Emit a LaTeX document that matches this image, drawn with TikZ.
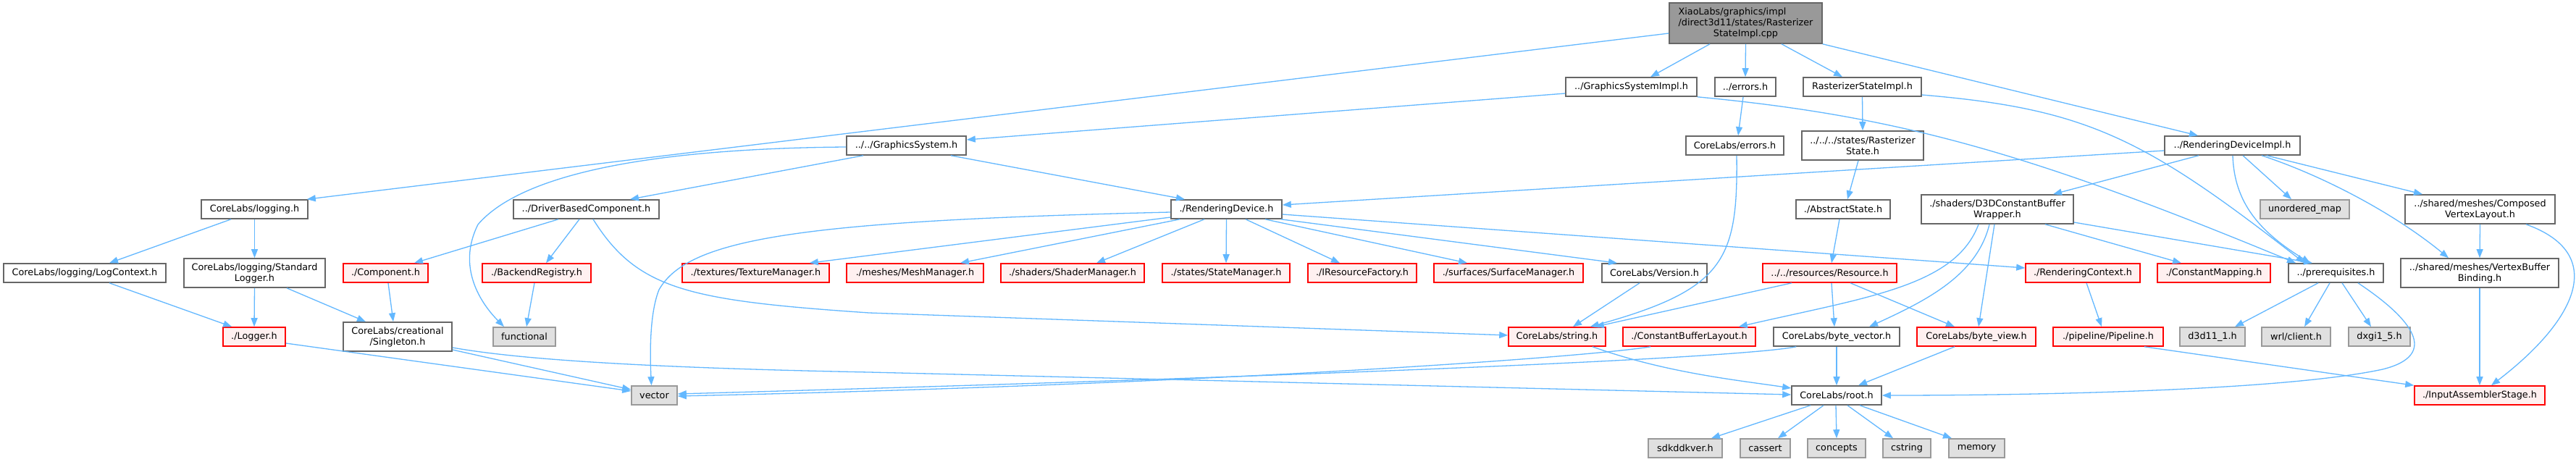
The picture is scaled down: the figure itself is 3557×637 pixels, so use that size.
\documentclass[tikz,border=0pt]{standalone}
\usepackage{fontspec}
\setmainfont{DejaVu Sans}
\usetikzlibrary{arrows.meta,calc}
\definecolor{edgeblue}{HTML}{63B8FF}
\definecolor{bdgray}{HTML}{666666}
\definecolor{redfill}{HTML}{FFF0F0}
\definecolor{grayfill}{HTML}{E0E0E0}
\definecolor{graybd}{HTML}{999999}
\definecolor{mainfill}{HTML}{999999}
\tikzset{
  nd/.style={draw=bdgray, fill=white, line width=1.6pt, inner sep=0pt, align=center,
             font=\fontsize{12.8}{15}\selectfont, text=black, minimum height=26pt},
  rednd/.style={nd, draw=red, fill=redfill},
  graynd/.style={nd, draw=graybd, fill=grayfill},
  mainnd/.style={nd, draw=bdgray, fill=mainfill},
  dep/.style={draw=edgeblue, line width=1.3pt, -{Triangle[length=12pt,width=9pt]}},
}
\begin{document}
\begin{tikzpicture}[x=1pt,y=-1pt]
\fill[white] (0,0) rectangle (3557,637);
\useasboundingbox (0,0) rectangle (3557,637);

% row 0
\node[mainnd, minimum width=211pt, minimum height=56pt] (main) at (2410.5,32)
  {\rlap{XiaoLabs/graphics/impl}\phantom{/direct3d11/states/Rasterizer}\\/direct3d11/states/Rasterizer\\StateImpl.cpp};
% row 1
\node[nd, minimum width=181pt] (gsi) at (2252.5,120) {../GraphicsSystemImpl.h};
\node[nd, minimum width=84pt] (err) at (2410,120) {../errors.h};
\node[nd, minimum width=163pt] (rsi) at (2571.5,120) {RasterizerStateImpl.h};
% row 2
\node[nd, minimum width=165pt] (gs) at (1251.5,201) {../../GraphicsSystem.h};
\node[nd, minimum width=135pt] (cerr) at (2395.5,201) {CoreLabs/errors.h};
\node[nd, minimum width=168pt, minimum height=40pt] (rs) at (2572,201) {../../../states/Rasterizer\\State.h};
\node[nd, minimum width=187pt] (rdi) at (3082.5,201) {../RenderingDeviceImpl.h};
% row 3
\node[nd, minimum width=147pt] (log) at (351.5,289) {CoreLabs/logging.h};
\node[nd, minimum width=201pt] (dbc) at (809.5,289) {../DriverBasedComponent.h};
\node[nd, minimum width=153pt] (rd) at (1693.5,289) {./RenderingDevice.h};
\node[nd, minimum width=130pt] (as) at (2545,289) {./AbstractState.h};
\node[nd, minimum width=210pt, minimum height=40pt] (d3d) at (2758,289) {./shaders/D3DConstantBuffer\\Wrapper.h};
\node[graynd, minimum width=123pt] (umap) at (3182.5,289) {unordered\_map};
\node[nd, minimum width=207pt, minimum height=40pt] (cvl) at (3424.5,289) {../shared/meshes/Composed\\VertexLayout.h};
% row 4
\node[nd, minimum width=224pt] (lctx) at (117,377) {CoreLabs/logging/LogContext.h};
\node[nd, minimum width=195pt, minimum height=40pt] (stdl) at (351.5,377) {CoreLabs/logging/Standard\\Logger.h};
\node[rednd, minimum width=117pt] (comp) at (532.5,377) {./Component.h};
\node[rednd, minimum width=150pt] (breg) at (741,377) {./BackendRegistry.h};
\node[rednd, minimum width=203pt] (tex) at (1043.5,377) {./textures/TextureManager.h};
\node[rednd, minimum width=189pt] (mesh) at (1263.5,377) {./meshes/MeshManager.h};
\node[rednd, minimum width=198pt] (shad) at (1481,377) {./shaders/ShaderManager.h};
\node[rednd, minimum width=176pt] (stat) at (1693,377) {./states/StateManager.h};
\node[rednd, minimum width=150pt] (irf) at (1881,377) {./IResourceFactory.h};
\node[rednd, minimum width=206pt] (surf) at (2083,377) {./surfaces/SurfaceManager.h};
\node[nd, minimum width=145pt] (ver) at (2284.5,377) {CoreLabs/Version.h};
\node[rednd, minimum width=185pt] (res) at (2526.5,377) {../../resources/Resource.h};
\node[rednd, minimum width=158pt] (rctx) at (2876,377) {./RenderingContext.h};
\node[rednd, minimum width=156pt] (cmap) at (3057,377) {./ConstantMapping.h};
\node[nd, minimum width=131pt] (pre) at (3225.5,377) {../prerequisites.h};
\node[nd, minimum width=218pt, minimum height=40pt] (vbb) at (3424,377) {../shared/meshes/VertexBuffer\\Binding.h};
% row 5
\node[rednd, minimum width=86pt] (logger) at (351,465) {./Logger.h};
\node[nd, minimum width=150pt, minimum height=40pt] (single) at (549,465) {CoreLabs/creational\\/Singleton.h};
\node[graynd, minimum width=86pt] (func) at (724,465) {functional};
\node[rednd, minimum width=134pt] (str) at (2150,465) {CoreLabs/string.h};
\node[rednd, minimum width=183pt] (cbl) at (2332.5,465) {./ConstantBufferLayout.h};
\node[nd, minimum width=174pt] (bvec) at (2536,465) {CoreLabs/byte\_vector.h};
\node[rednd, minimum width=164pt] (bview) at (2729,465) {CoreLabs/byte\_view.h};
\node[rednd, minimum width=152pt] (pipe) at (2911,465) {./pipeline/Pipeline.h};
\node[graynd, minimum width=90pt] (d3d11) at (3055,465) {d3d11\_1.h};
\node[graynd, minimum width=95pt] (wrl) at (3170.5,465) {wrl/client.h};
\node[graynd, minimum width=85pt] (dxgi) at (3285.5,465) {dxgi1\_5.h};
% row 6
\node[graynd, minimum width=63pt] (vec) at (903.5,546) {vector};
\node[nd, minimum width=124pt] (root) at (2536,546) {CoreLabs/root.h};
\node[rednd, minimum width=180pt] (ias) at (3424,546) {./InputAssemblerStage.h};
% row 7
\node[graynd, minimum width=102pt] (sdk) at (2327,619) {sdkddkver.h};
\node[graynd, minimum width=69pt] (cassert) at (2437.5,619) {cassert};
\node[graynd, minimum width=80pt] (concepts) at (2536,619) {concepts};
\node[graynd, minimum width=66pt] (cstring) at (2633,619) {cstring};
\node[graynd, minimum width=77pt] (memory) at (2729.5,619) {memory};

% edges
\draw[dep] ($(main.west)+(0,14)$) -- ($(log.north east)+(-2,0)$);
\draw[dep] ($(main.south)+(-49.5,0)$) -- ($(gsi.north)+(26.5,0)$);
\draw[dep] (main.south) -- (err.north);
\draw[dep] ($(main.south)+(49.5,0)$) -- ($(rsi.north)+(-27.5,0)$);
\draw[dep] (main.south east) -- ($(rdi.north)+(-47.5,0)$);
\draw[dep] ($(gsi.west)+(0,9)$) -- ($(gs.east)+(0,-8)$);
\draw[dep] (gsi.south east) .. controls (2620,160) and (2800,210) .. ($(pre.north)+(-55.5,0)$);
\draw[dep] ($(err.south)+(-3,0)$) -- ($(cerr.north)+(4.5,0)$);
\draw[dep] ($(cerr.south)+(2.5,0)$) .. controls (2400,360) and (2380,400) .. ($(str.north east)+(-22,0)$);
\draw[dep] (rsi.south) -- (rs.north);
\draw[dep] ($(rsi.east)+(0,11)$) .. controls (2880,150) and (2960,190) .. ($(pre.north)+(-43.5,0)$);
\draw[dep] ($(rs.south)+(-6,0)$) -- ($(as.north)+(6,0)$);
\draw[dep] ($(as.south)+(-5,0)$) -- ($(res.north)+(2.5,0)$);
\draw[dep] ($(rdi.west)+(0,7)$) -- ($(rd.east)+(0,-6)$);
\draw[dep] ($(rdi.south)+(-46.5,0)$) -- ($(d3d.north)+(77,0)$);
\draw[dep] ($(rdi.south)+(0.5,0)$) .. controls (3085,280) and (3120,320) .. ($(pre.north)+(-35.5,0)$);
\draw[dep] ($(rdi.south)+(14.5,0)$) -- ($(umap.north)+(-18.5,0)$);
\draw[dep] ($(rdi.south)+(40.5,0)$) .. controls (3200,240) and (3300,290) .. ($(vbb.north)+(-43,0)$);
\draw[dep] ($(rdi.south)+(47.5,0)$) -- ($(cvl.north)+(-79.5,0)$);
\draw[dep] (cvl.south) -- (vbb.north);
\draw[dep] ($(cvl.south)+(63.5,0)$) .. controls (3600,350) and (3560,440) .. ($(ias.north)+(16,0)$);
\draw[dep] (vbb.south) -- (ias.north);
\draw[dep] ($(d3d.south)+(-26,0)$) .. controls (2700,395) and (2580,410) .. ($(cbl.north east)+(-24,0)$);
\draw[dep] ($(d3d.south)+(-11,0)$) .. controls (2730,380) and (2660,415) .. ($(bvec.north)+(45,0)$);
\draw[dep] ($(d3d.south)+(-4,0)$) -- ($(bview.north)+(3,0)$);
\draw[dep] ($(d3d.south)+(66,0)$) -- ($(cmap.north)+(-45,0)$);
\draw[dep] ($(d3d.east)+(0,18)$) -- ($(pre.north)+(-32.5,0)$);
\draw[dep] ($(res.south)+(-52.5,0)$) -- ($(str.north east)+(-15,0)$);
\draw[dep] ($(res.south)+(2.5,0)$) -- ($(bvec.north)+(-3,0)$);
\draw[dep] ($(res.south)+(28.5,0)$) -- ($(bview.north)+(-30,0)$);
\draw[dep] ($(rctx.south)+(5,0)$) -- ($(pipe.north)+(-9,0)$);
\draw[dep] ($(pipe.south)+(50,0)$) -- (ias.north west);
\draw[dep] ($(pre.south)+(-24.5,0)$) -- ($(d3d11.north)+(31,0)$);
\draw[dep] ($(pre.south)+(-8.5,0)$) -- ($(wrl.north)+(11.5,0)$);
\draw[dep] ($(pre.south)+(8.5,0)$) -- ($(dxgi.north)+(-11.5,0)$);
\draw[dep] ($(pre.south)+(30.5,0)$) .. controls (3330,440) and (3370,490) .. (3290,510) .. controls (3150,540) and (2800,546) .. (root.east);
\draw[dep] (bvec.south) -- (root.north);
\draw[dep] ($(bvec.south west)+(32,0)$) .. controls (2400,495) and (1800,520) .. ($(vec.east)+(0,-2)$);
\draw[dep] ($(cbl.south)+(-53.5,0)$) .. controls (2200,492) and (1700,530) .. ($(vec.east)+(0,1)$);
\draw[dep] ($(bview.south)+(-30,0)$) -- ($(root.north)+(30,0)$);
\draw[dep] ($(str.south)+(49,0)$) .. controls (2300,515) and (2400,525) .. ($(root.west)+(0,-10)$);
\draw[dep] ($(single.east)+(0,18)$) -- ($(vec.west)+(0,-8)$);
\draw[dep] ($(single.east)+(0,15)$) .. controls (720,497) and (900,508) .. (1200,514) -- ($(root.west)+(0,-1)$);
\draw[dep] ($(logger.east)+(0,9)$) -- ($(vec.west)+(0,-6)$);
\draw[dep] ($(lctx.south)+(34,0)$) -- ($(logger.north west)+(13,0)$);
\draw[dep] (stdl.south) -- (logger.north);
\draw[dep] ($(stdl.south)+(44.5,0)$) -- ($(single.north)+(-44,0)$);
\draw[dep] ($(log.south)+(-32.5,0)$) -- ($(lctx.north)+(34,0)$);
\draw[dep] (log.south) -- (stdl.north);
\draw[dep] ($(dbc.south)+(-38.5,0)$) -- ($(comp.north)+(39.5,0)$);
\draw[dep] ($(dbc.south)+(-9.5,0)$) -- ($(breg.north)+(13,0)$);
\draw[dep] ($(dbc.south)+(9.5,0)$) .. controls (880,400) and (950,415) .. (1200,432) -- ($(str.west)+(0,-2)$);
\draw[dep] ($(comp.south)+(3.5,0)$) -- ($(single.north)+(-6,0)$);
\draw[dep] ($(breg.south)+(-3,0)$) -- ($(func.north)+(3,0)$);
\draw[dep] ($(gs.south)+(-59.5,0)$) -- ($(dbc.north)+(60.5,0)$);
\draw[dep] ($(gs.south)+(61.5,0)$) -- ($(rd.north)+(-57.5,0)$);
\draw[dep] ($(gs.west)+(0,2)$) .. controls (900,205) and (720,240) .. (660,310) .. controls (630,370) and (665,420) .. ($(func.north)+(-28,0)$);
\draw[dep] ($(rd.west)+(0,4)$) .. controls (1100,305) and (950,330) .. (910,400) .. controls (898,430) and (897,480) .. ($(vec.north)+(-4,0)$);
\draw[dep] ($(rd.west)+(0,11)$) -- ($(tex.north east)+(-28,0)$);
\draw[dep] ($(rd.south)+(-64.5,0)$) -- ($(mesh.north)+(62.5,0)$);
\draw[dep] ($(rd.south)+(-30.5,0)$) -- ($(shad.north)+(33,0)$);
\draw[dep] (rd.south) -- (stat.north);
\draw[dep] ($(rd.south)+(26.5,0)$) -- ($(irf.north)+(-31,0)$);
\draw[dep] ($(rd.south)+(53.5,0)$) -- ($(surf.north)+(-57,0)$);
\draw[dep] ($(rd.south east)+(-2,0)$) -- ($(ver.north)+(-51.5,0)$);
\draw[dep] ($(rd.east)+(0,7)$) -- ($(rctx.west)+(0,-7)$);
\draw[dep] ($(ver.south)+(-20.5,0)$) -- ($(str.north)+(22,0)$);
\draw[dep] ($(root.south)+(-36,0)$) -- ($(sdk.north)+(36,0)$);
\draw[dep] ($(root.south)+(-18,0)$) -- ($(cassert.north)+(17.5,0)$);
\draw[dep] ($(root.south)+(-1,0)$) -- (concepts.north);
\draw[dep] ($(root.south)+(15,0)$) -- ($(cstring.north)+(-19,0)$);
\draw[dep] ($(root.south)+(32,0)$) -- ($(memory.north)+(-34.5,0)$);
\end{tikzpicture}
\end{document}
